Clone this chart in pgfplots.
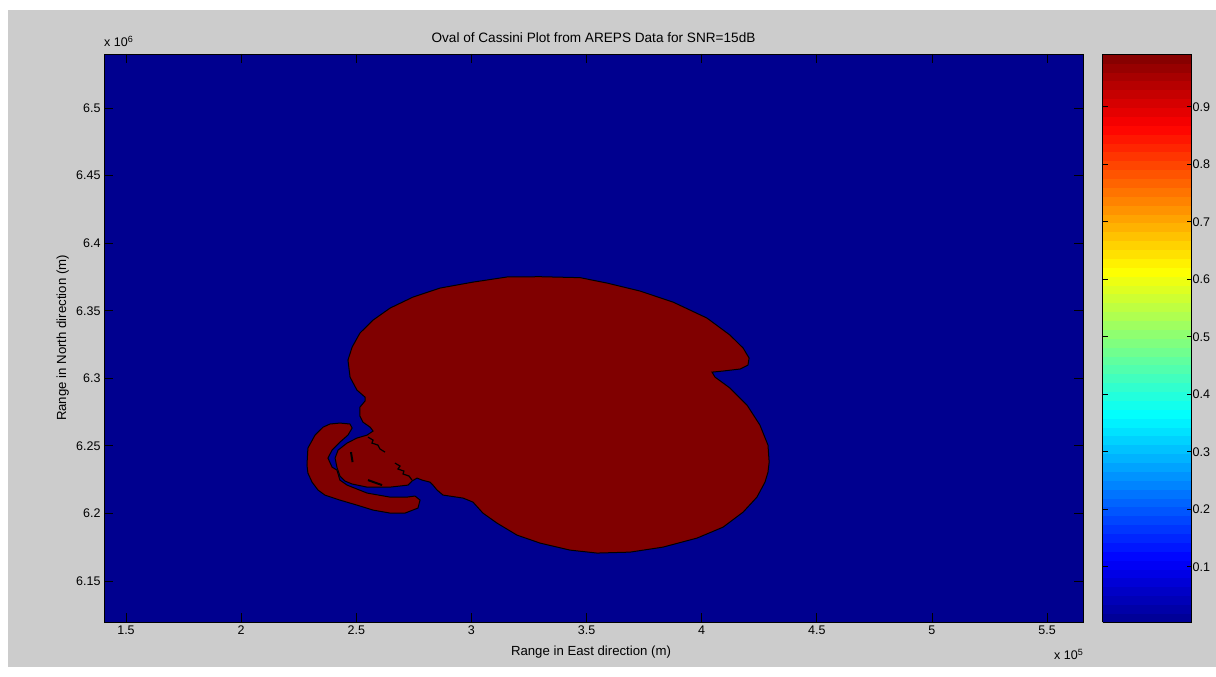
\documentclass[border=0pt]{standalone}
\usepackage{fontspec}
\setmainfont{Liberation Sans}
\usepackage{pgfplots}
\pgfplotsset{compat=1.18}
\definecolor{figgray}{HTML}{CCCCCC}
\definecolor{jetblue}{rgb}{0,0,0.5625}
\definecolor{jetdark}{rgb}{0.5,0,0}
\newcommand\fsz{\fontsize{12.5}{14}\selectfont}
\newcommand\lsz{\fontsize{13.2}{15}\selectfont}
\newcommand\tsz{\fontsize{13.6}{15}\selectfont}
\begin{document}
\begin{tikzpicture}[x=1pt,y=1pt]
\useasboundingbox (0,0) rectangle (1216,677);
\fill[white] (0,0) rectangle (1216,677);
\fill[figgray] (8,10) rectangle (1216,667);
\begin{axis}[
  at={(104pt,55pt)}, anchor=south west,
  scale only axis, width=979pt, height=568pt,
  xmin=1.4045, xmax=5.656, ymin=6.1197, ymax=6.540,
  axis background/.style={fill=jetblue},
  axis on top,
  tick pos=both, tick align=inside, major tick length=9pt,
  axis line style={black, line width=0.9pt},
  tick style={black, line width=0.9pt},
  xtick={1.5,2,2.5,3,3.5,4,4.5,5,5.5},
  ytick={6.15,6.2,6.25,6.3,6.35,6.4,6.45,6.5},
  tick label style={font=\fsz},
  /pgf/number format/assume math mode=true,
  yticklabel style={/pgf/number format/fixed, /pgf/number format/precision=2},
  xticklabel style={/pgf/number format/fixed},
  scaled ticks=false,
  point meta min=0.004, point meta max=0.992,
  colormap={mjet}{rgb(0pt)=(0,0,0.5625); rgb(7pt)=(0,0,1); rgb(23pt)=(0,1,1); rgb(39pt)=(1,1,0); rgb(55pt)=(1,0,0); rgb(63pt)=(0.5,0,0)},
  colorbar,
  colorbar sampled,
  colorbar style={
    at={(parent axis.north east)}, anchor=north west, xshift=11pt,
    scale only axis, width=89pt, height=568pt,
    samples=65,
    ytick={0.1,0.2,0.3,0.4,0.5,0.6,0.7,0.8,0.9},
    ytick pos=both, yticklabel pos=right,
    tick align=inside, major tick length=5pt,
    axis line style={black, line width=0.9pt},
    tick style={black, line width=0.9pt},
    yticklabel style={font=\fsz, /pgf/number format/fixed, inner xsep=1pt},
    /pgf/number format/assume math mode=true,
  },
]
% main lobe with the inner lobe
\addplot[fill=jetdark, draw=black, line width=1pt, mark=none] coordinates {
(3.155,6.375) (3.298,6.3752) (3.472,6.3745) (3.589,6.3705) (3.732,6.3646)
(3.876,6.3564) (4.023,6.3446) (4.123,6.332) (4.180,6.3224) (4.206,6.315)
(4.201,6.3098) (4.167,6.3069) (4.093,6.3054) (4.045,6.3046) (4.058,6.3009)
(4.123,6.2928) (4.197,6.2802) (4.253,6.2654) (4.288,6.2506) (4.293,6.238)
(4.288,6.2306) (4.275,6.2232) (4.240,6.2121) (4.180,6.201) (4.093,6.1899)
(3.980,6.1818) (3.832,6.1751) (3.689,6.1714) (3.546,6.1707) (3.428,6.1729)
(3.298,6.1781) (3.198,6.184) (3.111,6.1929) (3.050,6.2003) (3.007,6.2084)
(2.964,6.2114) (2.877,6.2136) (2.851,6.2173) (2.833,6.221) (2.820,6.2232)
(2.786,6.2247) (2.764,6.2262) (2.742,6.224) (2.725,6.221) (2.647,6.2195)
(2.547,6.2195) (2.482,6.2218) (2.451,6.224) (2.429,6.2277) (2.416,6.2343)
(2.408,6.241) (2.421,6.2469) (2.460,6.2521) (2.503,6.2558) (2.547,6.258)
(2.573,6.261) (2.560,6.2639) (2.529,6.2676) (2.516,6.2721) (2.516,6.2787)
(2.538,6.2832) (2.538,6.2861) (2.503,6.2913) (2.473,6.3009) (2.464,6.3135)
(2.482,6.3231) (2.516,6.3335) (2.573,6.3431) (2.647,6.352) (2.746,6.3601)
(2.864,6.3668) (3.007,6.3712)
} -- cycle;
% outer crescent lobe
\addplot[fill=jetdark, draw=black, line width=1pt, mark=none] coordinates {
(2.482,6.2632) (2.473,6.2662) (2.429,6.2669) (2.386,6.2662) (2.356,6.2639)
(2.321,6.258) (2.290,6.2484) (2.286,6.2358) (2.290,6.2299) (2.308,6.2232)
(2.334,6.2173) (2.364,6.2136) (2.429,6.2099) (2.503,6.2062) (2.573,6.2025)
(2.647,6.2003) (2.712,6.2003) (2.768,6.204) (2.777,6.2099) (2.755,6.2129)
(2.720,6.2121) (2.647,6.2121) (2.547,6.2151) (2.460,6.221) (2.429,6.2247)
(2.416,6.2321) (2.395,6.2343) (2.377,6.241) (2.395,6.2469) (2.429,6.2528)
(2.464,6.258)
} -- cycle;
% contour fragments
\addplot[black, line width=1.2pt, mark=none] coordinates {
(2.668,6.2373) (2.690,6.2351) (2.681,6.2329) (2.707,6.2314) (2.703,6.2292) (2.729,6.2277) (2.742,6.2247)};
\addplot[black, line width=1.2pt, mark=none] coordinates {
(2.551,6.2565) (2.573,6.2543) (2.568,6.2521) (2.594,6.2506) (2.603,6.2477) (2.625,6.2454)};
\addplot[black, line width=2pt, mark=none] coordinates {(2.477,6.2454) (2.484,6.238)};
\addplot[black, line width=2pt, mark=none] coordinates {(2.551,6.2247) (2.612,6.221)};
\end{axis}
\node[anchor=base, font=\tsz] at (593.5,634) {Oval of Cassini Plot from AREPS Data for SNR=15dB};
\node[anchor=base, font=\lsz] at (591,21) {Range in East direction (m)};
\node[anchor=base, rotate=90, font=\lsz] at (66,339) {Range in North direction (m)};
\node[anchor=base west, font=\fsz, inner sep=0pt] at (104,630) {x 10\raisebox{0.7ex}{\fontsize{9}{10}\selectfont 6}};
\node[anchor=base east, font=\fsz, inner sep=0pt] at (1083,17) {x 10\raisebox{0.7ex}{\fontsize{9}{10}\selectfont 5}};
\end{tikzpicture}
\end{document}
